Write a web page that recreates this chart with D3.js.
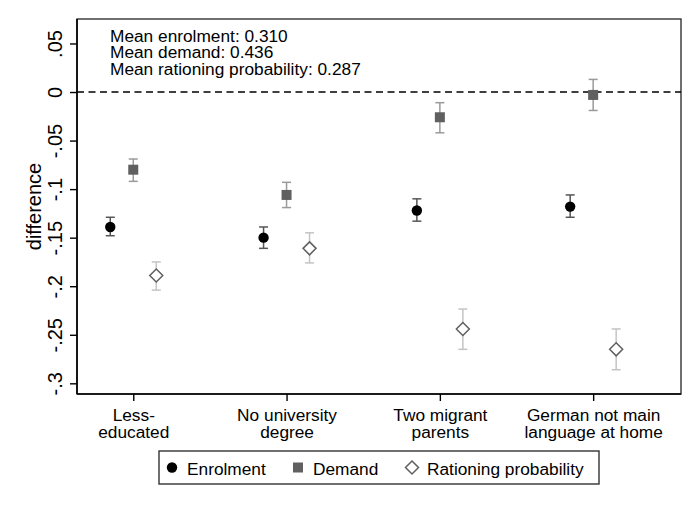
<!DOCTYPE html>
<html lang="en">
<head>
  <style>
    body { margin: 0; background: #fff; }
    text { font-family: "Liberation Sans", Arial, sans-serif; fill: #000; }
    .axis path { display: none; }
    .axis line { stroke: #000; stroke-width: 1.4px; }
  </style>
  <script src="https://d3js.org/d3.v7.min.js"></script>
</head>
<body>
  <script>
    const categories = [
      ["Less-", "educated"],
      ["No university", "degree"],
      ["Two migrant", "parents"],
      ["German not main", "language at home"]
    ];
    const enrolment = [-0.139, -0.150, -0.122, -0.118];
    const enrolLo = [-0.148, -0.161, -0.133, -0.129];
    const enrolHi = [-0.129, -0.139, -0.110, -0.106];
    const demand = [-0.080, -0.106, -0.026, -0.003];
    const demandLo = [-0.092, -0.119, -0.042, -0.019];
    const demandHi = [-0.069, -0.093, -0.011, 0.013];
    const rationing = [-0.189, -0.161, -0.244, -0.265];
    const rationLo = [-0.204, -0.176, -0.265, -0.286];
    const rationHi = [-0.175, -0.145, -0.2235, -0.244];
    const yTicks = [0.05, 0, -0.05, -0.1, -0.15, -0.2, -0.25, -0.3];
    const yTickLabels = [".05", "0", "-.05", "-.1", "-.15", "-.2", "-.25", "-.3"];
    const notes = ["Mean enrolment: 0.310", "Mean demand: 0.436", "Mean rationing probability: 0.287"];
    const legendLabels = ["Enrolment", "Demand", "Rationing probability"];

    const W = 700, H = 509;
    const margin = { top: 19, right: 19, bottom: 115, left: 77 };
    const width = W - margin.left - margin.right;
    const height = H - margin.top - margin.bottom;

    const svg = d3.select("body").append("svg")
      .attr("width", W).attr("height", H);
    const g = svg.append("g")
      .attr("transform", `translate(${margin.left},${margin.top})`);

    const x = d3.scaleLinear().domain([-0.367, 3.573]).range([0, width]);
    const y = d3.scaleLinear().domain([-0.311, 0.0752]).range([height, 0]);

    // frame
    g.append("rect")
      .attr("width", width).attr("height", height)
      .attr("fill", "none").attr("stroke", "#333").attr("stroke-width", 1.4);

    // y axis
    const ya = g.append("g").attr("class", "axis")
      .call(d3.axisLeft(y).tickValues(yTicks).tickSize(7).tickFormat((d, i) => yTickLabels[i]));
    ya.selectAll("text")
      .attr("x", null).attr("dy", null)
      .attr("text-anchor", "middle")
      .attr("transform", "translate(-15,0) rotate(-90)")
      .style("font-size", "20px");

    // x axis
    const xa = g.append("g").attr("class", "axis")
      .attr("transform", `translate(0,${height})`)
      .call(d3.axisBottom(x).tickValues([0, 1, 2, 3]).tickSize(7).tickFormat(""));
    xa.selectAll(".tick").each(function (d) {
      const t = d3.select(this).append("text")
        .attr("text-anchor", "middle")
        .style("font-size", "17.3px");
      categories[d].forEach((s, k) => {
        t.append("tspan").attr("x", 0).attr("y", 27 + k * 17.3).text(s);
      });
    });

    g.append("line")
      .attr("x1", 0).attr("x2", width)
      .attr("y1", y(0)).attr("y2", y(0))
      .attr("stroke", "#000").attr("stroke-width", 1.5)
      .attr("stroke-dasharray", "7,4.5");

    g.append("line").attr("x1", 0).attr("x2", 0).attr("y1", 0).attr("y2", height)
      .attr("stroke", "#000").attr("stroke-width", 1.6);
    g.append("line").attr("x1", 0).attr("x2", width).attr("y1", height).attr("y2", height)
      .attr("stroke", "#000").attr("stroke-width", 1.6);

    // notes
    const nt = g.append("text").style("font-size", "17.3px");
    notes.forEach((s, k) => {
      nt.append("tspan").attr("x", 33).attr("y", 22.7 + k * 16.7).text(s);
    });

    const series = [
      { val: enrolment, lo: enrolLo, hi: enrolHi, off: -0.15, ci: "#555", shape: "circle" },
      { val: demand, lo: demandLo, hi: demandHi, off: 0, ci: "#9a9a9a", shape: "square" },
      { val: rationing, lo: rationLo, hi: rationHi, off: 0.15, ci: "#c4c4c4", shape: "diamond" }
    ];

    function drawMarker(sel, shape) {
      if (shape === "circle") {
        sel.append("circle").attr("r", 5.2).attr("fill", "#000");
      } else if (shape === "square") {
        sel.append("rect").attr("x", -5).attr("y", -5).attr("width", 10).attr("height", 10).attr("fill", "#606060");
      } else {
        sel.append("path").attr("d", "M0,-6.5L6.5,0L0,6.5L-6.5,0Z")
          .attr("fill", "#fff").attr("stroke", "#606060").attr("stroke-width", 1.5);
      }
    }

    series.forEach(s => {
      const sg = g.append("g");
      s.val.forEach((v, i) => {
        const cx = x(i + s.off);
        const eb = sg.append("g").attr("stroke", s.ci).attr("stroke-width", 1.5);
        eb.append("line").attr("x1", cx).attr("x2", cx).attr("y1", y(s.lo[i])).attr("y2", y(s.hi[i]));
        eb.append("line").attr("x1", cx - 4.5).attr("x2", cx + 4.5).attr("y1", y(s.lo[i])).attr("y2", y(s.lo[i]));
        eb.append("line").attr("x1", cx - 4.5).attr("x2", cx + 4.5).attr("y1", y(s.hi[i])).attr("y2", y(s.hi[i]));
        const m = sg.append("g").attr("transform", `translate(${cx},${y(v)})`);
        drawMarker(m, s.shape);
      });
    });

    // y title
    svg.append("text")
      .attr("transform", `translate(41,${margin.top + height / 2}) rotate(-90)`)
      .attr("text-anchor", "middle")
      .style("font-size", "20px")
      .text("difference");

    // legend
    const lg = svg.append("g");
    lg.append("rect")
      .attr("x", 159).attr("y", 451).attr("width", 440).attr("height", 33)
      .attr("fill", "#fff").attr("stroke", "#333").attr("stroke-width", 1.4);
    const legendX = [172, 298, 412];
    legendLabels.forEach((lab, k) => {
      const m = lg.append("g").attr("transform", `translate(${legendX[k]},467.5)`);
      drawMarker(m, series[k].shape);
      lg.append("text").attr("x", legendX[k] + 15).attr("y", 475)
        .style("font-size", "17.3px").text(lab);
    });
  </script>
</body>
</html>
